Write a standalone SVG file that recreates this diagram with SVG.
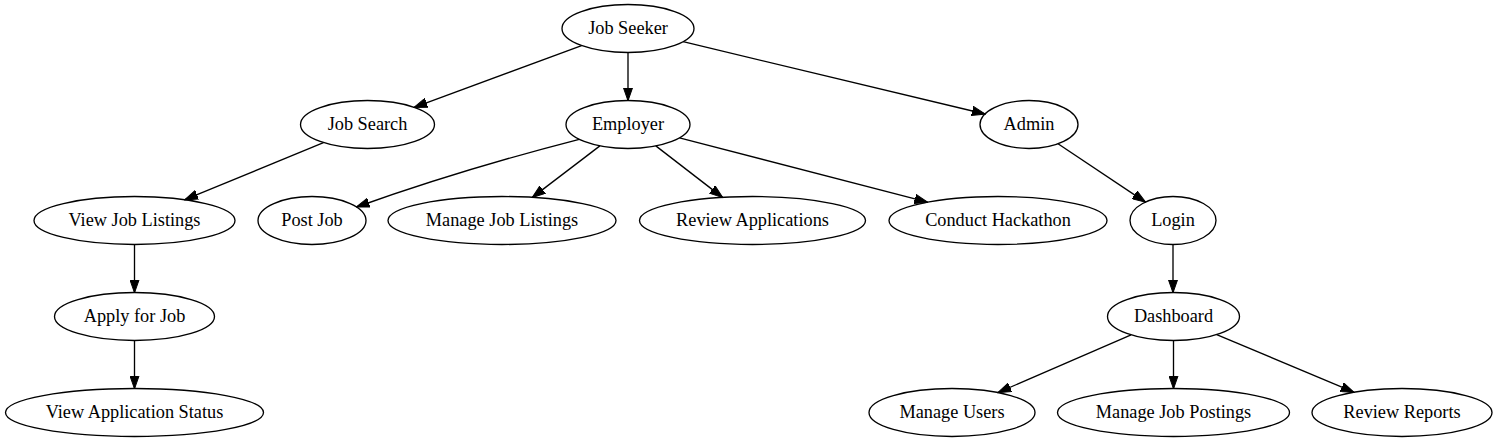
<svg xmlns="http://www.w3.org/2000/svg" width="1498" height="443" viewBox="0 0 1498 443">
<style>
.n ellipse{fill:none;stroke:#000;stroke-width:1.33}
.n text{font-family:"Liberation Serif","Times New Roman",serif;font-size:18.3px;text-anchor:middle;fill:#000}
.e path{fill:none;stroke:#000;stroke-width:1.33;marker-end:url(#ah)}
</style>
<defs>
<marker id="ah" markerUnits="userSpaceOnUse" markerWidth="14" markerHeight="10" refX="13" refY="4.67" orient="auto" viewBox="0 0 14 9.33">
<path d="M0,0 L13.33,4.67 L0,9.33 z" fill="#000" stroke="#000" stroke-width="1"/>
</marker>
</defs>
<rect width="1498" height="443" fill="#fff"/>
<g id="edges" class="e">
<path d="M581.6,45.6 L414.2,107.3"/>
<path d="M628,52.5 L628,100.5"/>
<path d="M683.1,41.7 L985,114"/>
<path d="M579.2,139.3 Q460,170 356.6,207"/>
<path d="M599.9,145.9 L532.4,197.4"/>
<path d="M655.8,145.9 L722.5,197.4"/>
<path d="M679.5,137.9 L927.5,202.2"/>
<path d="M323.5,142.6 L184.9,199.7"/>
<path d="M134.5,244.5 L134.5,292.5"/>
<path d="M134.5,340.5 L134.5,388.5"/>
<path d="M1058,143.8 L1145.4,202.1"/>
<path d="M1173,244.5 L1173,292.5"/>
<path d="M1131.1,334.9 L998.1,392.5"/>
<path d="M1173.5,340.5 L1173.5,388.5"/>
<path d="M1216.7,334.6 L1353.8,392.2"/>
</g>
<g id="job-seeker" class="n"><ellipse cx="628" cy="28.5" rx="66" ry="24"/><text x="628" y="34">Job Seeker</text></g>
<g id="job-search" class="n"><ellipse cx="367.5" cy="124.5" rx="67" ry="24"/><text x="367.5" y="130">Job Search</text></g>
<g id="employer" class="n"><ellipse cx="628" cy="124.5" rx="62" ry="24"/><text x="628" y="130">Employer</text></g>
<g id="admin" class="n"><ellipse cx="1029" cy="124.5" rx="49" ry="24"/><text x="1029" y="130">Admin</text></g>
<g id="view-job-listings" class="n"><ellipse cx="134.5" cy="220.5" rx="100.5" ry="24"/><text x="134.5" y="226">View Job Listings</text></g>
<g id="post-job" class="n"><ellipse cx="312" cy="220.5" rx="54" ry="24"/><text x="312" y="226">Post Job</text></g>
<g id="manage-job-listings" class="n"><ellipse cx="502" cy="220.5" rx="114" ry="24"/><text x="502" y="226">Manage Job Listings</text></g>
<g id="review-applications" class="n"><ellipse cx="752.5" cy="220.5" rx="113" ry="24"/><text x="752.5" y="226">Review Applications</text></g>
<g id="conduct-hackathon" class="n"><ellipse cx="998" cy="220.5" rx="109" ry="24"/><text x="998" y="226">Conduct Hackathon</text></g>
<g id="login" class="n"><ellipse cx="1173" cy="220.5" rx="43" ry="24"/><text x="1173" y="226">Login</text></g>
<g id="apply-for-job" class="n"><ellipse cx="134.5" cy="316.5" rx="80" ry="24"/><text x="134.5" y="322">Apply for Job</text></g>
<g id="dashboard" class="n"><ellipse cx="1173.5" cy="316.5" rx="66" ry="24"/><text x="1173.5" y="322">Dashboard</text></g>
<g id="view-application-status" class="n"><ellipse cx="134.5" cy="412.5" rx="129" ry="24"/><text x="134.5" y="418">View Application Status</text></g>
<g id="manage-users" class="n"><ellipse cx="952" cy="412.5" rx="83" ry="24"/><text x="952" y="418">Manage Users</text></g>
<g id="manage-job-postings" class="n"><ellipse cx="1173.5" cy="412.5" rx="116" ry="24"/><text x="1173.5" y="418">Manage Job Postings</text></g>
<g id="review-reports" class="n"><ellipse cx="1402" cy="412.5" rx="90" ry="24"/><text x="1402" y="418">Review Reports</text></g>
</svg>
